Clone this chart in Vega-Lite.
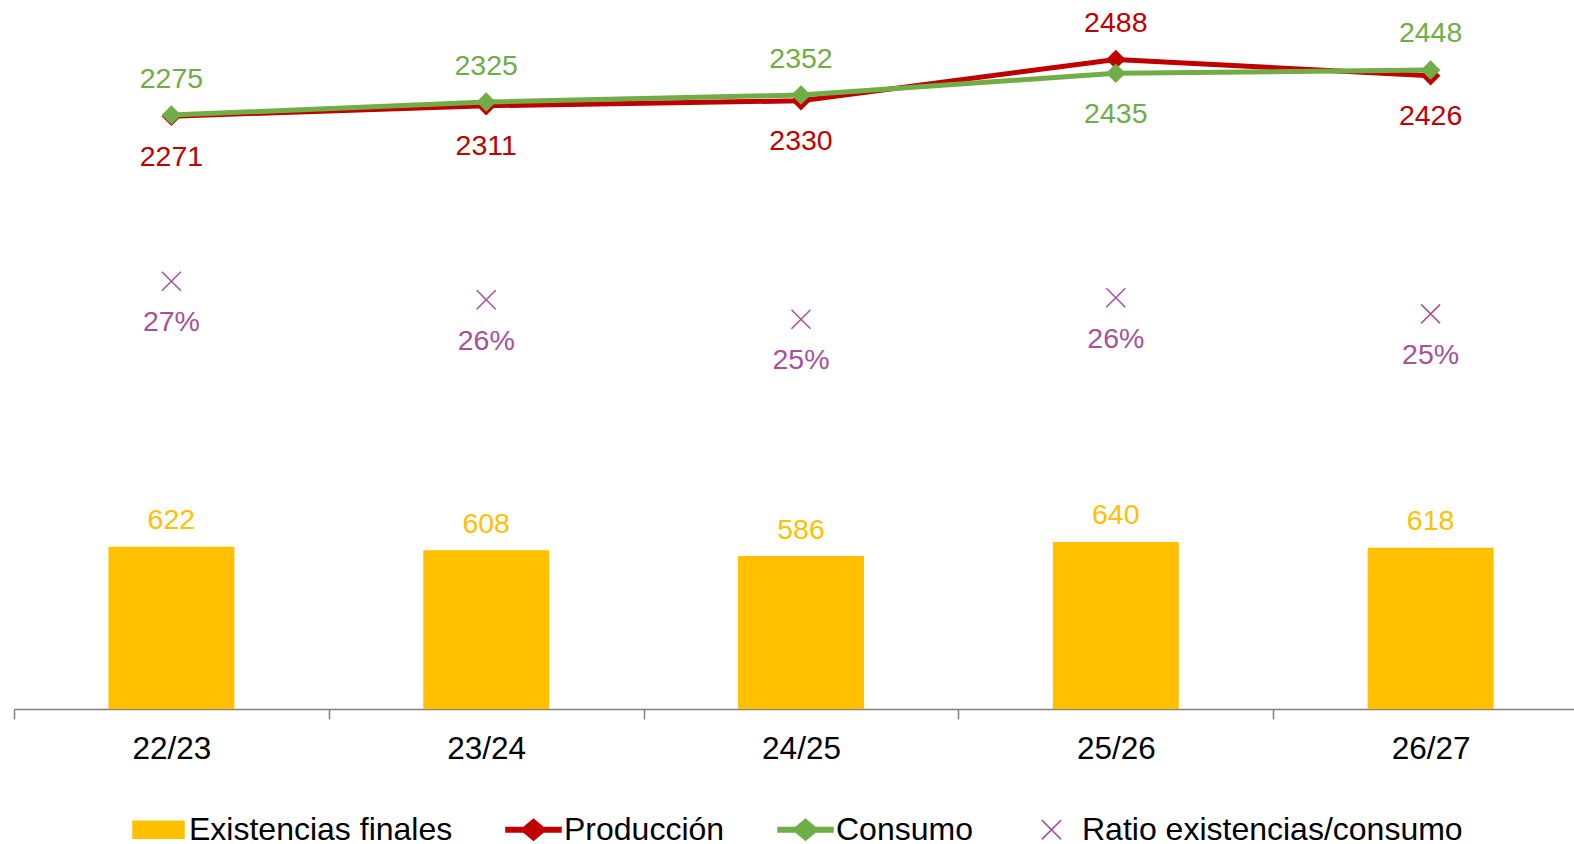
{
  "$schema": "https://vega.github.io/schema/vega-lite/v6.json",
  "width": 1560,
  "height": 709,
  "autosize": {"type": "none"},
  "padding": {"left": 14, "top": 0, "right": 0, "bottom": 135},
  "background": "white",
  "config": {
    "view": {"stroke": null},
    "font": "Liberation Sans",
    "text": {"font": "Liberation Sans"}
  },
  "data": {
    "values": [
      {"periodo": "22/23", "serie": "Existencias finales", "valor": 622},
      {"periodo": "22/23", "serie": "Producción", "valor": 2271},
      {"periodo": "22/23", "serie": "Consumo", "valor": 2275},
      {"periodo": "22/23", "serie": "Ratio existencias/consumo", "valor": 0.2734},
      {"periodo": "23/24", "serie": "Existencias finales", "valor": 608},
      {"periodo": "23/24", "serie": "Producción", "valor": 2311},
      {"periodo": "23/24", "serie": "Consumo", "valor": 2325},
      {"periodo": "23/24", "serie": "Ratio existencias/consumo", "valor": 0.2615},
      {"periodo": "24/25", "serie": "Existencias finales", "valor": 586},
      {"periodo": "24/25", "serie": "Producción", "valor": 2330},
      {"periodo": "24/25", "serie": "Consumo", "valor": 2352},
      {"periodo": "24/25", "serie": "Ratio existencias/consumo", "valor": 0.2491},
      {"periodo": "25/26", "serie": "Existencias finales", "valor": 640},
      {"periodo": "25/26", "serie": "Producción", "valor": 2488},
      {"periodo": "25/26", "serie": "Consumo", "valor": 2435},
      {"periodo": "25/26", "serie": "Ratio existencias/consumo", "valor": 0.2628},
      {"periodo": "26/27", "serie": "Existencias finales", "valor": 618},
      {"periodo": "26/27", "serie": "Producción", "valor": 2426},
      {"periodo": "26/27", "serie": "Consumo", "valor": 2448},
      {"periodo": "26/27", "serie": "Ratio existencias/consumo", "valor": 0.2525}
    ]
  },
  "encoding": {
    "x": {
      "field": "periodo",
      "type": "nominal",
      "sort": null,
      "scale": {"range": [0, 1574], "paddingInner": 0, "paddingOuter": 0},
      "axis": {
        "title": null,
        "labelAngle": 0,
        "labelFont": "Liberation Sans",
        "labelFontSize": 31.5,
        "labelColor": "#000000",
        "labelPadding": 14,
        "tickBand": "extent",
        "tickSize": 10,
        "tickColor": "#808080",
        "tickWidth": 1.5,
        "domainColor": "#808080",
        "domainWidth": 1.5
      }
    }
  },
  "layer": [
    {
      "transform": [{"filter": "datum.serie === 'Existencias finales'"}],
      "mark": {"type": "bar", "width": {"band": 0.4}},
      "encoding": {
        "y": {"field": "valor", "type": "quantitative", "scale": {"domain": [0, 2716], "nice": false, "zero": true}, "axis": null},
        "color": {
          "field": "serie",
          "type": "nominal",
          "scale": {
            "domain": ["Existencias finales", "Producción", "Consumo", "Ratio existencias/consumo"],
            "range": ["#FFC000", "#C00000", "#70AD47", "#A5529A"]
          },
          "legend": {
            "title": null,
            "orient": "none",
            "direction": "horizontal",
            "legendX": 116,
            "legendY": 801,
            "padding": 0,
            "columnPadding": 50,
            "labelFont": "Liberation Sans",
            "labelFontSize": 32,
            "labelColor": "#000000",
            "labelOffset": 2,
            "labelLimit": 800,
            "symbolSize": 3025,
            "symbolStrokeWidth": 1.5,
            "encode": {
              "symbols": {
                "update": {
                  "shape": {"signal": "datum.value === 'Existencias finales' ? 'M-0.927,-0.309H0.927V0.309H-0.927Z' : (datum.value === 'Ratio existencias/consumo' ? 'M-0.35,-0.35L0.35,0.35M-0.35,0.35L0.35,-0.35' : 'M-1,-0.08H-0.36L0,-0.38L0.36,-0.08H1V0.08H0.36L0,0.38L-0.36,0.08H-1Z')"},
                  "fill": {"signal": "datum.value === 'Existencias finales' ? '#FFC000' : (datum.value === 'Producción' ? '#C00000' : (datum.value === 'Consumo' ? '#70AD47' : 'transparent'))"},
                  "stroke": {"signal": "datum.value === 'Ratio existencias/consumo' ? '#A5529A' : 'transparent'"},
                  "strokeWidth": {"value": 1.5},
                  "size": {"value": 3025},
                  "opacity": {"value": 1},
                  "fillOpacity": {"value": 1},
                  "strokeOpacity": {"value": 1}
                }
              }
            }
          }
        }
      }
    },
    {
      "transform": [{"filter": "datum.serie === 'Producción'"}],
      "mark": {"type": "line", "strokeWidth": 5, "point": {"shape": "diamond", "size": 380, "filled": true}},
      "encoding": {
        "y": {"field": "valor", "type": "quantitative", "scale": {"domain": [0, 2716], "nice": false, "zero": true}, "axis": null},
        "color": {"field": "serie", "type": "nominal"}
      }
    },
    {
      "transform": [{"filter": "datum.serie === 'Consumo'"}],
      "mark": {"type": "line", "strokeWidth": 5, "point": {"shape": "diamond", "size": 380, "filled": true}},
      "encoding": {
        "y": {"field": "valor", "type": "quantitative", "scale": {"domain": [0, 2716], "nice": false, "zero": true}, "axis": null},
        "color": {"field": "serie", "type": "nominal"}
      }
    },
    {
      "transform": [{"filter": "datum.serie === 'Ratio existencias/consumo'"}],
      "mark": {"type": "point", "shape": "M-1,-1L1,1M-1,1L1,-1", "size": 361, "filled": false, "strokeWidth": 1.5, "opacity": 1},
      "encoding": {
        "y": {"field": "valor", "type": "quantitative", "scale": {"domain": [0, 0.4531], "nice": false, "zero": true}, "axis": null},
        "color": {"field": "serie", "type": "nominal"}
      }
    },
    {
      "transform": [{"filter": "datum.serie === 'Existencias finales'"}],
      "mark": {"type": "text", "fontSize": 28.5, "baseline": "middle", "dy": -26.5},
      "encoding": {
        "y": {"field": "valor", "type": "quantitative", "scale": {"domain": [0, 2716], "nice": false, "zero": true}, "axis": null},
        "text": {"field": "valor", "type": "quantitative", "format": "d"},
        "color": {"field": "serie", "type": "nominal"}
      }
    },
    {
      "transform": [
        {"filter": "datum.serie === 'Producción' || datum.serie === 'Consumo'"},
        {"joinaggregate": [{"op": "max", "field": "valor", "as": "maxv"}], "groupby": ["periodo"]},
        {"filter": "datum.valor === datum.maxv"}
      ],
      "mark": {"type": "text", "fontSize": 28.5, "baseline": "middle", "dy": -36.5},
      "encoding": {
        "y": {"field": "valor", "type": "quantitative", "scale": {"domain": [0, 2716], "nice": false, "zero": true}, "axis": null},
        "text": {"field": "valor", "type": "quantitative", "format": "d"},
        "color": {"field": "serie", "type": "nominal"}
      }
    },
    {
      "transform": [
        {"filter": "datum.serie === 'Producción' || datum.serie === 'Consumo'"},
        {"joinaggregate": [{"op": "max", "field": "valor", "as": "maxv"}], "groupby": ["periodo"]},
        {"filter": "datum.valor < datum.maxv"}
      ],
      "mark": {"type": "text", "fontSize": 28.5, "baseline": "middle", "dy": 40.5},
      "encoding": {
        "y": {"field": "valor", "type": "quantitative", "scale": {"domain": [0, 2716], "nice": false, "zero": true}, "axis": null},
        "text": {"field": "valor", "type": "quantitative", "format": "d"},
        "color": {"field": "serie", "type": "nominal"}
      }
    },
    {
      "transform": [{"filter": "datum.serie === 'Ratio existencias/consumo'"}],
      "mark": {"type": "text", "fontSize": 28.5, "baseline": "middle", "dy": 41},
      "encoding": {
        "y": {"field": "valor", "type": "quantitative", "scale": {"domain": [0, 0.4531], "nice": false, "zero": true}, "axis": null},
        "text": {"field": "valor", "type": "quantitative", "format": ".0%"},
        "color": {"field": "serie", "type": "nominal"}
      }
    }
  ],
  "resolve": {"scale": {"y": "independent"}}
}
